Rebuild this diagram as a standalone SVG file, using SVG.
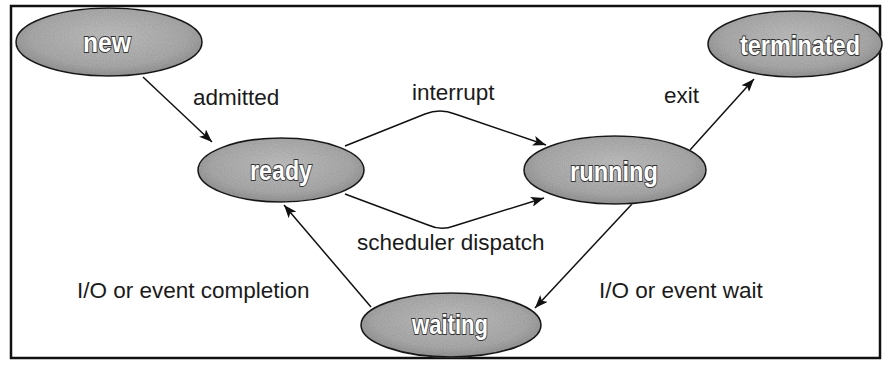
<svg xmlns="http://www.w3.org/2000/svg" width="886" height="365" viewBox="0 0 886 365">
<style>
.node{fill:url(#g);stroke:#1a1a1a;stroke-width:1.6;filter:url(#grain)}
.nt{font-family:"Liberation Sans",Arial,sans-serif;font-weight:bold;font-size:27px;fill:#fff;stroke:#333;stroke-width:1.8;paint-order:stroke;text-anchor:middle}
.lbl{font-family:"Liberation Sans",Arial,sans-serif;font-size:22.5px;fill:#1a1a1a}
.edge{fill:none;stroke:#111;stroke-width:1.5;marker-end:url(#ah)}
</style>
<defs>
<radialGradient id="g" cx="0.5" cy="0.45" r="0.6" fx="0.5" fy="0.4">
<stop offset="0" stop-color="#c0c0c0"/>
<stop offset="0.7" stop-color="#ababab"/>
<stop offset="1" stop-color="#8c8c8c"/>
</radialGradient>
<filter id="grain" x="-5%" y="-5%" width="110%" height="110%">
<feTurbulence type="fractalNoise" baseFrequency="0.9" numOctaves="1" seed="3" result="n"/>
<feColorMatrix in="n" type="matrix" values="0 0 0 0 0.5  0 0 0 0 0.5  0 0 0 0 0.5  0.6 0 0 0 -0.1" result="nn"/>
<feComposite in="nn" in2="SourceGraphic" operator="in" result="m"/>
<feBlend in="m" in2="SourceGraphic" mode="multiply"/>
</filter>
<marker id="ah" markerUnits="userSpaceOnUse" markerWidth="14" markerHeight="10" refX="13" refY="5" orient="auto">
<path d="M0,0 L13,5 L0,10 L3,5 z" fill="#111"/>
</marker>
</defs>
<rect x="0" y="0" width="886" height="365" fill="#fff"/>
<rect x="11" y="6" width="869" height="352" fill="none" stroke="#111" stroke-width="2.5"/>
<g id="connectors">
<path class="edge" d="M143,77 L212,142"/>
<path class="edge" d="M345,146 L425,114 Q440,108 455,114 L546,145"/>
<path class="edge" d="M345,194 L428,225 Q441,231 454,226 L544,198"/>
<path class="edge" d="M632,204 L535,308"/>
<path class="edge" d="M371,307 L284,205"/>
<path class="edge" d="M690,150 L754,79"/>
</g>
<g id="labels">
<text class="lbl" x="193" y="105">admitted</text>
<text class="lbl" x="412" y="100">interrupt</text>
<text class="lbl" x="664" y="103">exit</text>
<text class="lbl" x="357" y="250">scheduler dispatch</text>
<text class="lbl" x="77" y="298">I/O or event completion</text>
<text class="lbl" x="599" y="298">I/O or event wait</text>
</g>
<g id="new">
<ellipse class="node" cx="109" cy="42" rx="93" ry="34"/>
<text class="nt" x="107" y="52" textLength="48" lengthAdjust="spacingAndGlyphs">new</text>
</g>
<g id="ready">
<ellipse class="node" cx="281" cy="170" rx="83" ry="32"/>
<text class="nt" x="281" y="180" textLength="62" lengthAdjust="spacingAndGlyphs">ready</text>
</g>
<g id="running">
<ellipse class="node" cx="615" cy="170" rx="91" ry="34"/>
<text class="nt" x="614" y="181" textLength="88" lengthAdjust="spacingAndGlyphs">running</text>
</g>
<g id="terminated">
<ellipse class="node" cx="795" cy="44" rx="87" ry="33"/>
<text class="nt" x="800" y="55" textLength="120" lengthAdjust="spacingAndGlyphs">terminated</text>
</g>
<g id="waiting">
<ellipse class="node" cx="451" cy="325" rx="90" ry="32"/>
<text class="nt" x="450" y="334" textLength="76" lengthAdjust="spacingAndGlyphs">waiting</text>
</g>
</svg>
